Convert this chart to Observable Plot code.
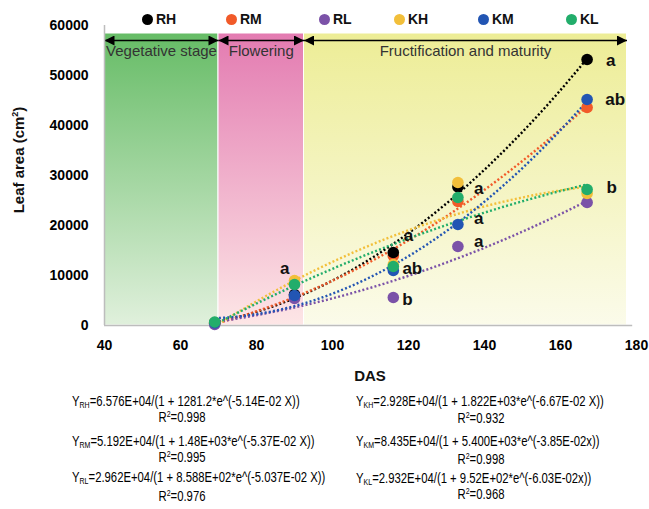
<!DOCTYPE html>
<html><head><meta charset="utf-8">
<script src="https://cdn.jsdelivr.net/npm/d3@7"></script>
<script src="https://cdn.jsdelivr.net/npm/@observablehq/plot@0.6"></script>
<style>
body{margin:0;background:#fff;}
#wrap{position:relative;width:649px;height:509px;overflow:hidden;}
.abs{position:absolute;white-space:nowrap;line-height:1;}
.eq{font-family:"Liberation Sans",Arial,sans-serif;font-size:14.5px;color:#000;transform-origin:0 50%;transform:translateY(-50%) scaleX(0.78);}
.r2{font-family:"Liberation Sans",Arial,sans-serif;font-size:14.5px;color:#000;transform:translate(-50%,-50%) scaleX(0.78);}
.eq sub{font-size:9px;vertical-align:-2px;}
.eq sup,.r2 sup{font-size:9px;vertical-align:5px;}
.lg{font-family:"Liberation Sans",Arial,sans-serif;font-weight:bold;font-size:14px;color:#111;transform:translateY(-50%);}
.lg i{display:inline-block;width:11px;height:11px;border-radius:50%;margin-right:3px;vertical-align:-1px;}
.ttl{font-family:"Liberation Sans",Arial,sans-serif;font-weight:bold;font-size:15px;color:#111;}
</style></head><body><div id="wrap"></div>
<script>
// ---- data ----
const days = [69, 90, 116, 133, 167];
const seriesNames = ["RH", "RM", "RL", "KH", "KM", "KL"];
const seriesColors = ["#000000", "#f15a29", "#7b52a8", "#f2bf3a", "#2255b3", "#22ad6b"];
const RH = [500, 6200, 14600, 27700, 53200];
const RM = [450, 5800, 13900, 24800, 43600];
const RL = [200, 5400, 5600, 15800, 24600];
const KH = [600, 9000, 12200, 28600, 26400];
const KM = [500, 6000, 11000, 20200, 45200];
const KL = [700, 8200, 11800, 25600, 27200];
const seriesValues = [RH, RM, RL, KH, KM, KL];
const drawOrder = ["RM", "RH", "RL", "KH", "KM", "KL"];

const xTicks = [40, 60, 80, 100, 120, 140, 160, 180];
const yTicks = [0, 10000, 20000, 30000, 40000, 50000, 60000];

const stageNames = ["Vegetative stage", "Flowering", "Fructification and maturity"];
const stageStart = [40, 70, 92.5];
const stageEnd = [70, 92.5, 177.5];
const stageTop = 58400;
const stageArrowY = 57000;
const stageLabelY = 54800;

const letterX = [173.2, 174.4, 173.5, 138.5, 138.5, 138.5, 120, 121, 119.7, 87.4];
const letterY = [53000, 45200, 27600, 27400, 21400, 16800, 18000, 11400, 5200, 11400];
const letterText = ["a", "ab", "b", "a", "a", "a", "a", "ab", "b", "a"];

const eqLeft = [
  ["RH", "6.576E+04/(1 + 1281.2*e^(-5.14E-02 X))", "0.998"],
  ["RM", "5.192E+04/(1 + 1.48E+03*e^(-5.37E-02 X))", "0.995"],
  ["RL", "2.962E+04/(1 + 8.588E+02*e^(-5.037E-02 X))", "0.976"]
];
const eqRight = [
  ["KH", "2.928E+04/(1 + 1.822E+03*e^(-6.67E-02 X))", "0.932"],
  ["KM", "8.435E+04/(1 + 5.400E+03*e^(-3.85E-02x))", "0.998"],
  ["KL", "2.932E+04/(1 + 9.52E+02*e^(-6.03E-02x))", "0.968"]
];

// ---- derived tables ----
const points = [];
drawOrder.forEach(s => {
  const i = seriesNames.indexOf(s);
  days.forEach((d, j) => points.push({series: s, day: d, value: seriesValues[i][j]}));
});

function fit2(xs, ys) {
  let n = xs.length, s1=0,s2=0,s3=0,s4=0,t0=0,t1=0,t2=0;
  for (let i=0;i<n;i++){const x=xs[i],y=ys[i];s1+=x;s2+=x*x;s3+=x*x*x;s4+=x*x*x*x;t0+=y;t1+=x*y;t2+=x*x*y;}
  const M=[[n,s1,s2],[s1,s2,s3],[s2,s3,s4]], v=[t0,t1,t2];
  const det=m=>m[0][0]*(m[1][1]*m[2][2]-m[1][2]*m[2][1])-m[0][1]*(m[1][0]*m[2][2]-m[1][2]*m[2][0])+m[0][2]*(m[1][0]*m[2][1]-m[1][1]*m[2][0]);
  const D=det(M);
  return [0,1,2].map(k=>det(M.map((row,r)=>row.map((c,cc)=>cc===k?v[r]:c)))/D);
}
const trend = [];
seriesNames.forEach((s, i) => {
  const [a,b,c] = fit2(days, seriesValues[i]);
  for (let x = days[0]; x <= days[days.length-1]; x += 0.5) trend.push({series: s, x, y: a + b*x + c*x*x});
});
const stages = stageNames.map((n, i) => ({name: n, x1: stageStart[i], x2: stageEnd[i], fill: `url(#g${i})`}));
const letters = letterText.map((t, i) => ({t, x: letterX[i], y: letterY[i]}));

const chart = Plot.plot({
  width: 649, height: 509,
  marginTop: 25, marginBottom: 184, marginLeft: 104, marginRight: 13,
  style: {fontFamily: '"Liberation Sans", Arial, sans-serif', background: "transparent"},
  x: {domain: [40, 180]},
  y: {domain: [0, 60000]},
  color: {domain: seriesNames, range: seriesColors},
  marks: [
    Plot.rectY(stages, {x1: "x1", x2: "x2", y1: 0, y2: stageTop, fill: "fill", stroke: "#fff", strokeWidth: 1}),
    Plot.link(stages, {x1: "x1", x2: "x2", y1: stageArrowY, y2: stageArrowY, stroke: "#000", strokeWidth: 1.5}),
    Plot.text(stages, {x: d => (d.x1 + d.x2) / 2, y: stageLabelY, text: "name", fontFamily: '"Liberation Sans", Arial, sans-serif', fontSize: 15, fill: "#333"}),
    Plot.ruleX([40], {y1: 0, y2: 60000, stroke: "#bdbdbd", strokeWidth: 1.5}),
    Plot.ruleY([0], {x1: 40, x2: 179, stroke: "#bdbdbd", strokeWidth: 1.5}),
    Plot.axisX({ticks: xTicks, tickSize: 0, tickPadding: 15, fontSize: 14, fontWeight: "bold", label: null}),
    Plot.axisY({ticks: yTicks, tickSize: 0, tickPadding: 16, fontSize: 14, fontWeight: "bold", label: null, tickFormat: d => String(d)}),
    Plot.line(trend, {x: "x", y: "y", z: "series", stroke: "series", strokeWidth: 2.4, strokeDasharray: "2,2.2", strokeLinecap: "butt", curve: "linear"}),
    Plot.dot(points, {x: "day", y: "value", fill: "series", r: 5.8}),
    Plot.text(letters, {x: "x", y: "y", text: "t", fontSize: 17, fontWeight: "bold", fill: "#111"})
  ]
});

const svg = d3.select(chart);
const defs = svg.insert("defs", ":first-child");
const grads = [["#66bc66", "#e0f0dc"], ["#e37bb1", "#fde6e6"], ["#eded96", "#fbfbea"]];
grads.forEach(([top, bot], i) => {
  const g = defs.append("linearGradient").attr("id", `g${i}`).attr("x1", 0).attr("y1", 0).attr("x2", 0).attr("y2", 1);
  g.append("stop").attr("offset", "0%").attr("stop-color", top);
  g.append("stop").attr("offset", "100%").attr("stop-color", bot);
});
defs.append("marker").attr("id", "ah").attr("viewBox", "0 0 10 10").attr("refX", 10).attr("refY", 5)
  .attr("markerWidth", 11).attr("markerHeight", 10).attr("markerUnits", "userSpaceOnUse").attr("orient", "auto-start-reverse")
  .append("path").attr("d", "M0,0L10,5L0,10z").attr("fill", "#000");
svg.selectAll('g[aria-label="link"] path').attr("marker-start", "url(#ah)").attr("marker-end", "url(#ah)");

const wrap = document.getElementById("wrap");
wrap.appendChild(chart);
chart.style.position = "absolute"; chart.style.left = "0"; chart.style.top = "0";

function addDiv(cls, html, left, top, extra) {
  const d = document.createElement("div");
  d.className = "abs " + cls; d.innerHTML = html;
  d.style.left = left + "px"; d.style.top = top + "px";
  if (extra) Object.assign(d.style, extra);
  wrap.appendChild(d); return d;
}
// legend
const legendX = [142, 226, 319, 394, 478, 566];
seriesNames.forEach((s, i) => addDiv("lg", `<i style="background:${seriesColors[i]}"></i>${s}`, legendX[i], 19));
// axis titles
addDiv("ttl", "DAS", 370, 375, {transform: "translate(-50%,-50%)"});
addDiv("ttl", "Leaf area (cm<sup style='font-size:9px;vertical-align:6px'>2</sup>)", 18, 160, {transform: "translate(-50%,-50%) rotate(-90deg)"});
// equations
const eqRowsY = [[402, 417], [442, 457], [478, 496]];
const eqRowsYR = [[402, 418], [442, 459], [479, 494]];
eqLeft.forEach(([s, f, r], i) => {
  addDiv("eq", `Y<sub>${s}</sub>=${f}`, 72, eqRowsY[i][0]);
  addDiv("r2", `R<sup>2</sup>=${r}`, 182, eqRowsY[i][1]);
});
eqRight.forEach(([s, f, r], i) => {
  addDiv("eq", `Y<sub>${s}</sub>=${f}`, 356, eqRowsYR[i][0]);
  addDiv("r2", `R<sup>2</sup>=${r}`, 481, eqRowsYR[i][1]);
});
</script>
</body></html>
